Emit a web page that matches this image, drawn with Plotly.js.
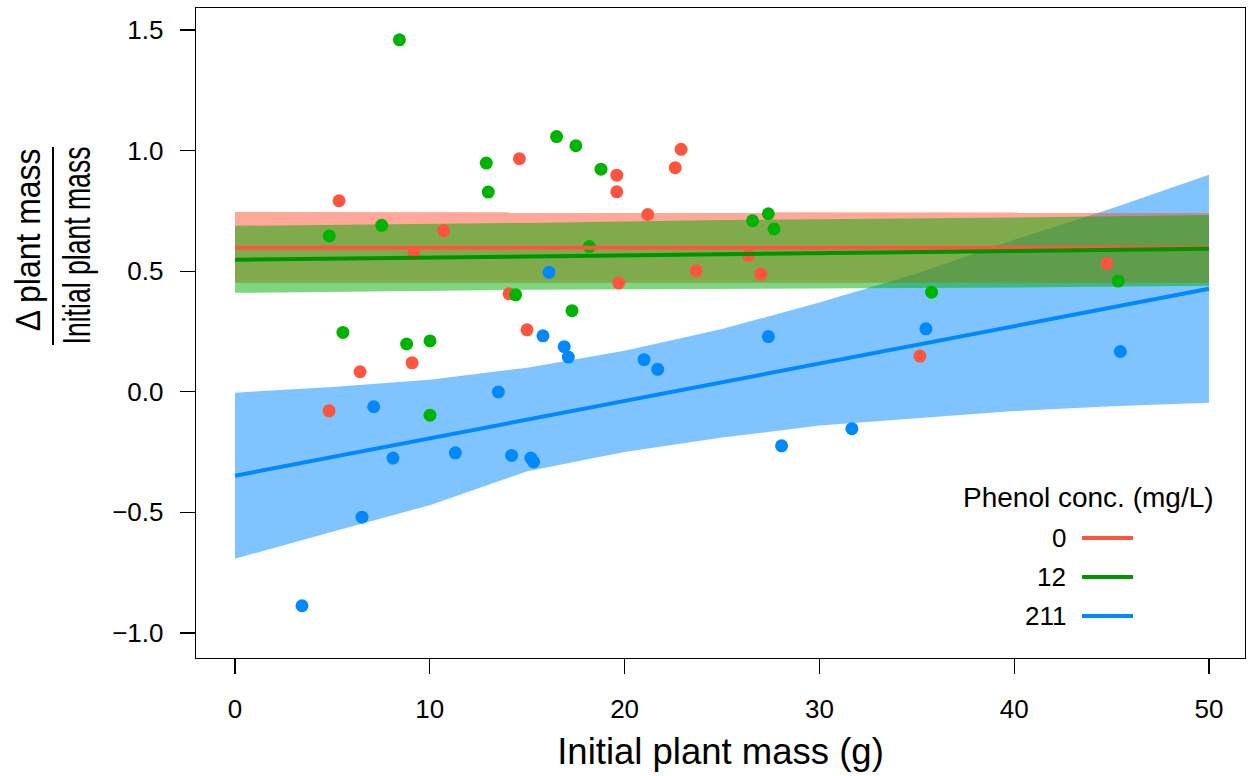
<!DOCTYPE html>
<html><head><meta charset="utf-8">
<script src="https://cdn.plot.ly/plotly-3.0.1.min.js"></script>
<style>html,body{margin:0;padding:0;background:#fff}#chart{width:1248px;height:776px}</style>
</head><body><div id="chart"></div>
<script>
// ---- data ----
const seriesNames = ['0', '12', '211'];
const pointColors = ['#FF5540', '#00B300', '#0088FF'];
const lineColors  = ['#FF5540', '#009400', '#0088FF'];
const bandColors  = ['rgba(255,82,52,0.5)', 'rgba(0,174,0,0.5)', 'rgba(0,137,255,0.5)'];

const redX = [4.83, 5.34, 6.42, 9.09, 9.19, 10.71, 14.6, 14.07, 14.99, 19.6, 19.6, 22.9, 22.6, 21.19, 19.7, 23.68, 26.37, 26.99, 44.76, 35.16];
const redY = [-0.079, 0.792, 0.083, 0.12, 0.572, 0.668, 0.966, 0.406, 0.257, 0.898, 0.829, 1.005, 0.929, 0.735, 0.451, 0.502, 0.565, 0.488, 0.532, 0.148];

const greenX = [8.44, 12.9, 13.0, 7.53, 4.84, 5.54, 8.81, 10.01, 10.01, 14.41, 16.51, 17.5, 18.79, 18.19, 17.3, 26.57, 27.38, 27.67, 35.76, 45.34];
const greenY = [1.459, 0.948, 0.828, 0.69, 0.646, 0.246, 0.198, 0.211, -0.097, 0.402, 1.058, 1.02, 0.923, 0.602, 0.336, 0.709, 0.738, 0.675, 0.413, 0.459];

const blueX = [3.44, 6.52, 8.11, 11.31, 14.2, 15.19, 15.33, 7.12, 13.52, 16.12, 15.81, 16.9, 17.11, 21.0, 21.7, 27.38, 28.06, 31.67, 35.47, 45.45];
const blueY = [-0.887, -0.52, -0.275, -0.253, -0.264, -0.275, -0.291, -0.062, -0.001, 0.495, 0.232, 0.187, 0.144, 0.133, 0.093, 0.229, -0.224, -0.153, 0.261, 0.167];

// fitted lines (end points)
const fitX = [0, 50];
const redFit = [0.597, 0.597];
const greenFit = [0.547, 0.593];
const blueFit = [-0.348, 0.427];

// confidence bands
const redBandX = [0, 50];
const redUpper = [0.745, 0.743];
const redLower = [0.452, 0.452];

const greenBandX = [0, 15, 25, 40, 50];
const greenUpper = [0.688, 0.700, 0.712, 0.722, 0.733];
const greenLower = [0.410, 0.423, 0.428, 0.432, 0.440];

const blueBandX = [0, 5, 10, 15, 20, 25, 30, 35, 40, 45, 50];
const blueUpper = [-0.004, 0.02, 0.05, 0.10, 0.17, 0.26, 0.37, 0.49, 0.63, 0.76, 0.90];
const blueLower = [-0.692, -0.58, -0.47, -0.33, -0.25, -0.19, -0.14, -0.11, -0.08, -0.06, -0.046];

const xTicks = [0, 10, 20, 30, 40, 50];
const yTicks = [-1.0, -0.5, 0.0, 0.5, 1.0, 1.5];

const yTitleTop = 'Δ plant mass';
const yTitleBottom = 'Initial plant mass';
const xTitle = 'Initial plant mass (g)';
const legendTitle = 'Phenol conc. (mg/L)';

// ---- build traces ----
function band(x, up, lo, color) {
  return {
    x: x.concat(x.slice().reverse()),
    y: up.concat(lo.slice().reverse()),
    type: 'scatter', mode: 'lines', fill: 'toself',
    fillcolor: color, line: {width: 0, color: 'rgba(0,0,0,0)'},
    hoverinfo: 'skip', showlegend: false
  };
}
function pts(x, y, c) {
  return {x: x, y: y, type: 'scatter', mode: 'markers',
    marker: {size: 13, color: c, line: {width: 0}}, showlegend: false};
}
function fit(y, c) {
  return {x: fitX, y: y, type: 'scatter', mode: 'lines',
    line: {width: 4, color: c}, showlegend: false};
}

const traces = [
  band(blueBandX, blueUpper, blueLower, bandColors[2]),
  band(redBandX, redUpper, redLower, bandColors[0]),
  band(greenBandX, greenUpper, greenLower, bandColors[1]),
  pts(redX, redY, pointColors[0]),
  pts(greenX, greenY, pointColors[1]),
  pts(blueX, blueY, pointColors[2]),
  fit(redFit, lineColors[0]),
  fit(greenFit, lineColors[1]),
  fit(blueFit, lineColors[2])
];

// ---- layout ----
const L = 196, T = 8, W = 1049, H = 650;
const px = v => (v - L) / W;
const py = v => (T + H - v) / H;

const font = 'Liberation Sans, Arial, Helvetica, sans-serif';

const annotations = [
  {text: yTitleTop, xref: 'paper', yref: 'paper', x: px(28), y: py(240),
   xanchor: 'center', yanchor: 'middle', textangle: -90, showarrow: false,
   font: {family: font, size: 36, color: '#000'}},
  {text: yTitleBottom, xref: 'paper', yref: 'paper', x: px(77), y: py(246),
   xanchor: 'center', yanchor: 'middle', textangle: -90, showarrow: false,
   font: {family: font, size: 38, color: '#000'}},
  {text: legendTitle, xref: 'paper', yref: 'paper', x: px(1088), y: py(497),
   xanchor: 'center', yanchor: 'middle', showarrow: false,
   font: {family: font, size: 28, color: '#000'}}
];
const shapes = [
  {type: 'line', xref: 'paper', yref: 'paper', x0: px(53), x1: px(53), y0: py(147), y1: py(345),
   line: {color: '#000', width: 2}}
];
const legY = [538, 577, 616];
seriesNames.forEach((n, i) => {
  annotations.push({text: n, xref: 'paper', yref: 'paper', x: px(1068), y: py(legY[i]),
    xanchor: 'right', yanchor: 'middle', showarrow: false,
    font: {family: font, size: 26, color: '#000'}});
  shapes.push({type: 'line', xref: 'paper', yref: 'paper', x0: px(1082), x1: px(1133),
    y0: py(legY[i]), y1: py(legY[i]), line: {color: lineColors[i], width: 4}});
});

const layout = {
  width: 1248, height: 776,
  margin: {l: L, r: 1248 - L - W, t: T, b: 776 - T - H, pad: 0},
  paper_bgcolor: '#fff', plot_bgcolor: '#fff',
  showlegend: false,
  font: {family: font, color: '#000'},
  xaxis: {
    range: [-2.002, 51.85], tickvals: xTicks, ticktext: xTicks.map(String),
    showgrid: false, zeroline: false, showline: true, mirror: true,
    linecolor: '#000', linewidth: 1.3,
    ticks: 'outside', ticklen: 15, tickwidth: 1.3, tickcolor: '#000',
    ticklabelstandoff: 12,
    tickfont: {family: font, size: 26, color: '#000'},
    title: {text: xTitle, font: {family: font, size: 36.5, color: '#000'}, standoff: 16}
  },
  yaxis: {
    range: [-1.1037, 1.591], tickvals: yTicks, ticktext: yTicks.map(v => v.toFixed(1).replace('-', '\u2212')),
    showgrid: false, zeroline: false, showline: true, mirror: true,
    linecolor: '#000', linewidth: 1.3,
    ticks: 'outside', ticklen: 15, tickwidth: 1.3, tickcolor: '#000',
    ticklabelstandoff: 11,
    tickfont: {family: font, size: 26, color: '#000'}
  },
  annotations: annotations,
  shapes: shapes
};

Plotly.newPlot('chart', traces, layout, {displayModeBar: false, staticPlot: true}).then(gd => {
  // condense the two parts of the fractional y title along their reading direction
  const texts = gd.querySelectorAll('.annotation-text');
  const targets = [183, 198];
  targets.forEach((target, i) => {
    const t = texts[i];
    if (!t) return;
    const bb = t.getBBox();
    const s = target / bb.width;
    const cx = bb.x + bb.width / 2, cy = bb.y + bb.height / 2;
    const prev = t.getAttribute('transform') || '';
    t.setAttribute('transform', prev + ` translate(${cx},${cy}) scale(${s},1) translate(${-cx},${-cy})`);
  });
});
</script>
</body></html>
